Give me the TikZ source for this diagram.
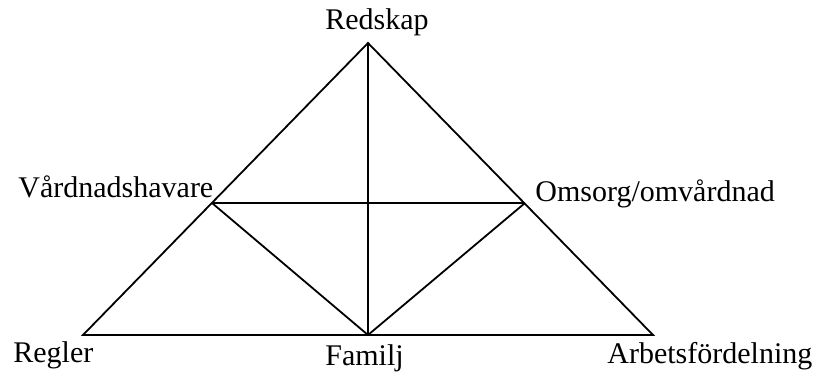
\documentclass[tikz,border=0pt]{standalone}
\usepackage{fontspec}
\setmainfont{Liberation Serif}
\usetikzlibrary{positioning, calc}
\tikzset{
    % Labels and edges
    corner/.style = {inner sep=0pt, font=\fontsize{15}{18}\selectfont, anchor=base west},
    edge_line/.style = {line width=0.9pt, line join=miter}
}

\begin{document}
\begin{tikzpicture}[x=0.5pt, y=-0.5pt]
    \useasboundingbox (0,0) rectangle (819,379);

    % Vertices
    \coordinate (top) at (368,43);
    \coordinate (left) at (83,335);
    \coordinate (right) at (653,335);
    \coordinate (bottom) at (368,335);
    \coordinate (midleft) at (212,203);
    \coordinate (midright) at (525,203);

    % Labels
    \node (redskap) [corner] at (325,30) {Redskap};
    \node (vardnad) [corner] at (18,198) {Vårdnadshavare};
    \node (omsorg) [corner] at (535,202) {Omsorg/omvårdnad};
    \node (regler) [corner] at (13,362) {Regler};
    \node (familj) [corner] at (325,365) {Familj};
    \node (arbete) [corner] at (607,363) {Arbetsfördelning};

    % Edges
    \draw [edge_line] (left) -- (top) -- (right) -- cycle;
    \draw [edge_line] (top) -- (bottom);
    \draw [edge_line] (midleft) -- (midright);
    \draw [edge_line] (midleft) -- (bottom) -- (midright);
\end{tikzpicture}
\end{document}
